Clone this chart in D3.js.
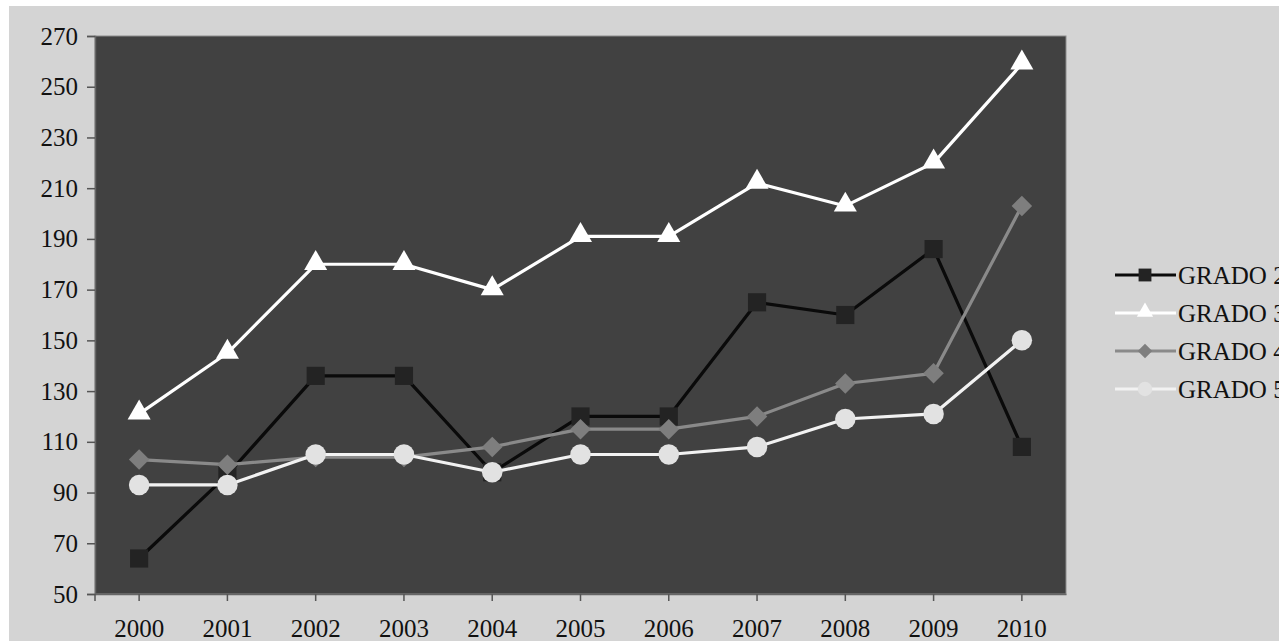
<!DOCTYPE html>
<html><head><meta charset="utf-8">
<script src="https://cdn.jsdelivr.net/npm/d3@7"></script>
<style>body{margin:0;background:#fff;overflow:hidden}svg{display:block}</style>
</head><body>
<script>
const years = ["2000","2001","2002","2003","2004","2005","2006","2007","2008","2009","2010"];
const grado2 = [64, 97, 136, 136, 98, 120, 120, 165, 160, 186, 108];
const grado3 = [121, 145, 180, 180, 170, 191, 191, 212, 203, 220, 259];
const grado4 = [103, 101, 104, 104, 108, 115, 115, 120, 133, 137, 203];
const grado5 = [93, 93, 105, 105, 98, 105, 105, 108, 119, 121, 150];
const seriesNames = ["GRADO 2", "GRADO 3", "GRADO 4", "GRADO 5"];
const yTicks = [50, 70, 90, 110, 130, 150, 170, 190, 210, 230, 250, 270];

const W = 1279, H = 641;
const plot = {l: 95, t: 36, r: 1066, b: 594};
const font = "'Liberation Serif','Times New Roman',serif";

const svg = d3.select("body").append("svg").attr("width", W).attr("height", H);
svg.append("rect").attr("x", 9).attr("y", 6).attr("width", W - 9).attr("height", H - 6).attr("fill", "#d4d4d4");

const x = d3.scaleBand().domain(years).range([plot.l, plot.r]).padding(0);
const cx = d => x(d) + x.bandwidth() / 2;
const y = d3.scaleLinear().domain([50, 270]).range([plot.b, plot.t]);

svg.append("rect").attr("x", plot.l).attr("y", plot.t)
  .attr("width", plot.r - plot.l).attr("height", plot.b - plot.t)
  .attr("fill", "#414141").attr("stroke", "#8c8c8c").attr("stroke-width", 1);

// Y axis
const yAxis = d3.axisLeft(y).tickValues(yTicks).tickSize(8).tickPadding(9);
const gy = svg.append("g").attr("transform", `translate(${plot.l},0)`).call(yAxis);
gy.select(".domain").attr("stroke", "#666").attr("stroke-width", 1.5);
gy.selectAll(".tick line").attr("stroke", "#555").attr("stroke-width", 1.5);
gy.selectAll(".tick text").attr("font-family", font).attr("font-size", 25).attr("fill", "#111");

// X axis
const xAxis = d3.axisBottom(x).tickSize(7).tickPadding(18).tickSizeOuter(0);
const gx = svg.append("g").attr("transform", `translate(0,${plot.b})`).call(xAxis);
gx.select(".domain").attr("stroke", "#666").attr("stroke-width", 1.5);
gx.selectAll(".tick line").attr("stroke", "#555").attr("stroke-width", 1.5);
gx.selectAll(".tick text").attr("font-family", font).attr("font-size", 25).attr("fill", "#111");
svg.append("line").attr("x1", plot.l).attr("x2", plot.l).attr("y1", plot.b).attr("y2", plot.b + 7)
  .attr("stroke", "#555").attr("stroke-width", 1.5);

const diamondPath = s => d3.symbol().type(d3.symbolSquare).size(s)();
const series = [
  {name: seriesNames[0], values: grado2, line: "#0a0a0a", fill: "#232323", sym: d3.symbolSquare, size: 330, rot: 0},
  {name: seriesNames[1], values: grado3, line: "#ffffff", fill: "#ffffff", sym: d3.symbolTriangle, size: 230, rot: 0, dy: -1},
  {name: seriesNames[2], values: grado4, line: "#8a8a8a", fill: "#7e7e7e", sym: d3.symbolSquare, size: 210, rot: 45},
  {name: seriesNames[3], values: grado5, line: "#f2f2f2", fill: "#e2e2e2", sym: d3.symbolCircle, size: 330, rot: 0}
];

const line = d3.line().x((d, i) => cx(years[i])).y(d => y(d));
series.forEach(s => {
  const g = svg.append("g");
  g.append("path").datum(s.values).attr("d", line).attr("fill", "none")
    .attr("stroke", s.line).attr("stroke-width", 3.2).attr("stroke-linejoin", "round");
  g.selectAll("path.m").data(s.values).enter().append("path").attr("class", "m")
    .attr("d", d3.symbol().type(s.sym).size(s.size))
    .attr("transform", (d, i) => `translate(${cx(years[i])},${y(d) + (s.dy || 0)}) rotate(${s.rot})`)
    .attr("fill", s.fill);
});

// Legend
const legY = [275, 313, 351, 389];
series.forEach((s, i) => {
  const g = svg.append("g").attr("transform", `translate(0,${legY[i]})`);
  g.append("line").attr("x1", 1115).attr("x2", 1176).attr("y1", 0).attr("y2", 0)
    .attr("stroke", s.line).attr("stroke-width", 3.2);
  g.append("path").attr("d", d3.symbol().type(s.sym).size(s.size * 0.5))
    .attr("transform", `translate(1145,${s.dy || 0}) rotate(${s.rot})`).attr("fill", s.fill);
  g.append("text").attr("x", 1178).attr("y", 0).attr("dy", "0.34em")
    .attr("font-family", font).attr("font-size", 25).attr("fill", "#111").text(s.name);
});
</script>
</body></html>
